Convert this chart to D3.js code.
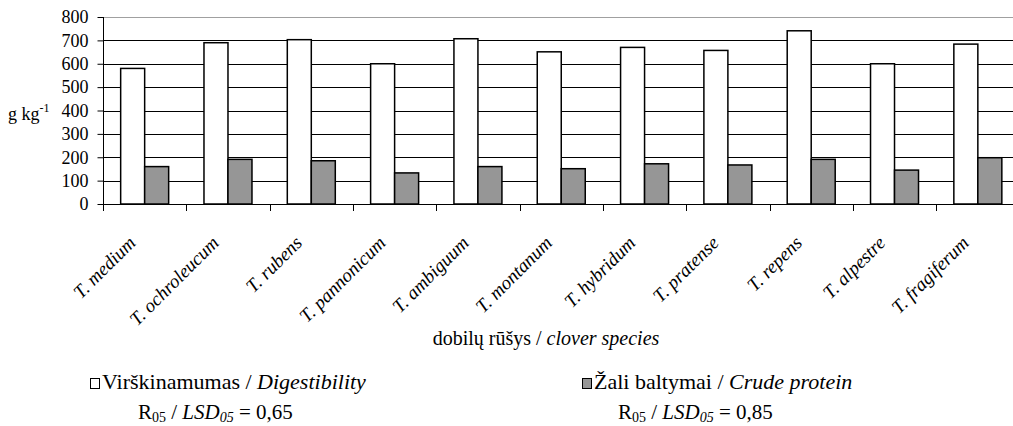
<!DOCTYPE html>
<html><head><meta charset="utf-8">
<script src="https://cdn.jsdelivr.net/npm/d3@7"></script>
<style>
body{margin:0;background:#fff;}
svg{display:block;}
</style></head><body>
<svg id="c" width="1013" height="426" font-family="Liberation Serif"></svg>
<script>
const categories = ["T. medium","T. ochroleucum","T. rubens","T. pannonicum","T. ambiguum","T. montanum","T. hybridum","T. pratense","T. repens","T. alpestre","T. fragiferum"];
const digestibility = [580, 690, 703, 600, 707, 651, 670, 657, 741, 600, 684];
const crudeProtein = [160, 191, 185, 133, 160, 151, 172, 167, 191, 145, 198];
const yTicks = [0,100,200,300,400,500,600,700,800];
const seriesNames = ["dig","cp"];

const FF = "Liberation Serif";
const svg = d3.select("#c");
const L = 103, R = 1019.5, T = 17, B = 204;
const x = d3.scaleBand().domain(categories).range([L, R]).padding(0);
const x1 = d3.scaleBand().domain(seriesNames).range([0, x.bandwidth()]).paddingInner(0).paddingOuter(0.736);
const y = d3.scaleLinear().domain([0, 800]).range([B, T]);

// top border
svg.append("line").attr("x1", L).attr("x2", 1013).attr("y1", Math.round(y(800))+0.5).attr("y2", Math.round(y(800))+0.5)
  .attr("stroke", "#a0a0a0").attr("stroke-width", 1);
// gridlines
svg.append("g").selectAll("line").data(yTicks.filter(d => d > 0 && d < 800)).join("line")
  .attr("x1", L).attr("x2", 1013).attr("y1", d => Math.round(y(d))+0.5).attr("y2", d => Math.round(y(d))+0.5)
  .attr("stroke", "#000").attr("stroke-width", 1);

// bars
const data = categories.map((c, i) => ({c, dig: digestibility[i], cp: crudeProtein[i]}));
const g = svg.append("g");
data.forEach(d => {
  g.append("rect").attr("x", x(d.c) + x1("dig")).attr("y", y(d.dig)).attr("width", x1.bandwidth()).attr("height", B - y(d.dig))
    .attr("fill", "#fff").attr("stroke", "#000").attr("stroke-width", 1.5);
  g.append("rect").attr("x", x(d.c) + x1("cp")).attr("y", y(d.cp)).attr("width", x1.bandwidth()).attr("height", B - y(d.cp))
    .attr("fill", "#969696").attr("stroke", "#000").attr("stroke-width", 1.5);
});

// y axis
const ya = svg.append("g").attr("transform", `translate(${L+0.5},0)`)
  .call(d3.axisLeft(y).tickValues(yTicks).tickSize(6).tickPadding(9).tickFormat(d3.format("d")));
ya.attr("font-family", FF);
ya.select(".domain").attr("stroke", "#000").attr("d", `M0,${T}V${B+7}`);
ya.selectAll("text").attr("font-size", 18).attr("font-family", FF).attr("fill", "#000");

// x axis baseline + ticks at category boundaries
svg.append("line").attr("x1", L).attr("x2", 1013).attr("y1", B+0.5).attr("y2", B+0.5).attr("stroke", "#000").attr("stroke-width", 1);
svg.append("g").selectAll("line").data(categories).join("line")
  .attr("x1", d => Math.round(x(d))+0.5).attr("x2", d => Math.round(x(d))+0.5).attr("y1", B).attr("y2", B+7)
  .attr("stroke", "#000");

// x labels
svg.append("g").selectAll("text").data(categories).join("text")
  .attr("transform", d => `translate(${x(d) + x.bandwidth()/2 - 8},${B+40}) rotate(-45)`)
  .attr("text-anchor", "end").attr("font-family", FF).attr("font-style", "italic").attr("font-size", 19).text(d => d);

// y label
const yl = svg.append("text").attr("x", 8).attr("y", 120).attr("font-size", 18).attr("font-family", FF);
yl.append("tspan").text("g kg");
yl.append("tspan").attr("font-size", 12).attr("dy", -8).text("-1");

// x title
const xt = svg.append("text").attr("x", 546).attr("y", 345).attr("text-anchor", "middle").attr("font-size", 20).attr("font-family", FF);
xt.append("tspan").text("dobilų rūšys / ");
xt.append("tspan").attr("font-style", "italic").text("clover species");

// legend
function legend(x0, fill, name, eng, lx, val) {
  svg.append("rect").attr("x", x0 + 0.5).attr("y", 378.5).attr("width", 9).attr("height", 10)
    .attr("fill", fill).attr("stroke", "#000").attr("stroke-width", 1);
  const t = svg.append("text").attr("x", x0 + 12).attr("y", 389).attr("font-size", 22).attr("font-family", FF);
  t.append("tspan").text(name + " / ");
  t.append("tspan").attr("font-style", "italic").text(eng);
  const r = svg.append("text").attr("x", lx).attr("y", 419).attr("font-size", 21).attr("font-family", FF);
  r.append("tspan").text("R");
  r.append("tspan").attr("font-size", 14).attr("dy", 3).text("05");
  r.append("tspan").attr("dy", -3).text(" / ");
  r.append("tspan").attr("font-style", "italic").text("LSD");
  r.append("tspan").attr("font-style", "italic").attr("font-size", 14).attr("dy", 3).text("05");
  r.append("tspan").attr("dy", -3).text(" = " + val);
}
legend(90, "#fff", "Virškinamumas", "Digestibility", 138, "0,65");
legend(582, "#969696", "Žali baltymai", "Crude protein", 618, "0,85");
</script></body></html>
